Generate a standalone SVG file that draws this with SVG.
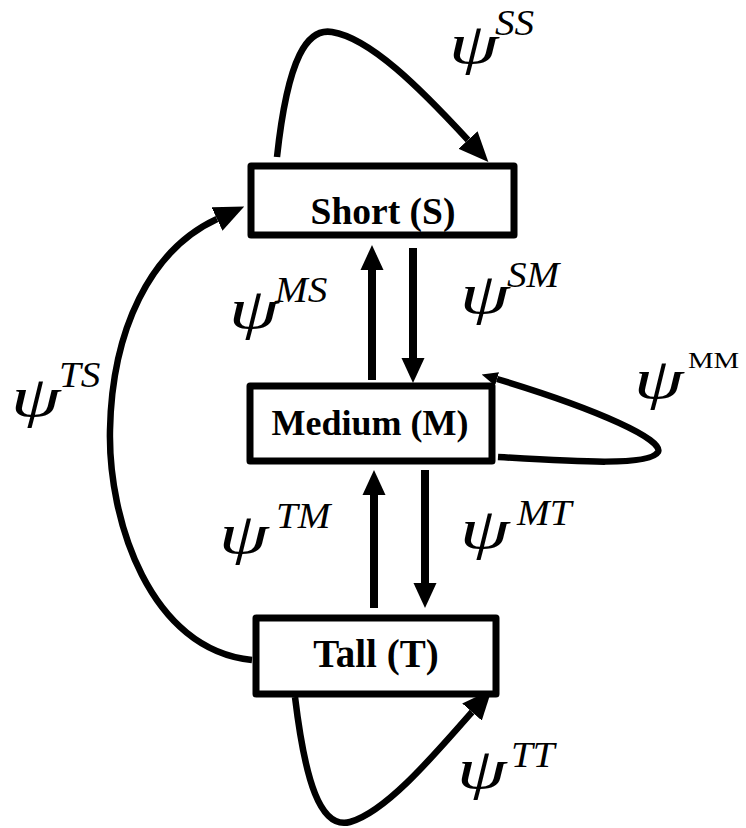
<svg xmlns="http://www.w3.org/2000/svg" width="746" height="828" viewBox="0 0 746 828">
<style>
.box{fill:#fff;stroke:#000;stroke-width:7;stroke-linejoin:round}
.lbl{font-family:"Liberation Serif","Times New Roman",serif;font-weight:bold;font-size:37.5px;text-anchor:middle;fill:#000}
.psi{font-family:"Liberation Serif","Times New Roman",serif;font-style:italic;font-size:57px;fill:#000}
.sup{font-family:"Liberation Serif","Times New Roman",serif;font-style:italic;font-size:35px;fill:#000}
.supr{font-family:"Liberation Serif","Times New Roman",serif;font-size:24px;fill:#000}
.st{fill:none;stroke:#000;stroke-width:8}
.cv{fill:none;stroke:#000;stroke-width:6.5}
</style>
<defs>
<marker id="ah" markerUnits="userSpaceOnUse" markerWidth="26" markerHeight="24" refX="0" refY="11.5" orient="auto" viewBox="0 0 26 23">
<path d="M0,0 L25,11.5 L0,23 z" fill="#000"/>
</marker>
<marker id="ahc" markerUnits="userSpaceOnUse" markerWidth="30" markerHeight="26" refX="0" refY="13" orient="auto" viewBox="0 0 30 26">
<path d="M0,0 L30,13 L0,26 z" fill="#000"/>
</marker>
<marker id="ahs" markerUnits="userSpaceOnUse" markerWidth="16" markerHeight="14" refX="0" refY="7" orient="auto" viewBox="0 0 16 14">
<path d="M0,0 L16,7 L0,14 z" fill="#000"/>
</marker>
</defs>
<g id="connectors">
<path class="cv" d="M277,157 C288,55 308,28 332,32 C370,38 420,88 468,140" marker-end="url(#ahc)"/>
<path class="cv" d="M252,660 C150,650 108,520 110,430 C112,330 150,250 217,219" marker-end="url(#ahc)"/>
<path class="cv" d="M498,457 C580,462 650,466 658,452 C664,440 600,410 497,379" marker-end="url(#ahs)"/>
<path class="cv" d="M295,697 C305,780 320,830 350,822 C385,812 430,760 472,712" marker-end="url(#ahc)"/>
<path class="st" d="M372,380 L372,270" marker-end="url(#ah)"/>
<path class="st" d="M413,248 L413,358" marker-end="url(#ah)"/>
<path class="st" d="M374,608 L374,495" marker-end="url(#ah)"/>
<path class="st" d="M425,470 L425,583" marker-end="url(#ah)"/>
</g>
<g id="short">
<rect class="box" x="251" y="166" width="263" height="69"/>
<text class="lbl" x="383" y="224">Short (S)</text>
</g>
<g id="medium">
<rect class="box" x="250" y="386" width="242" height="75"/>
<text class="lbl" x="370" y="435" style="font-size:36px">Medium (M)</text>
</g>
<g id="tall">
<rect class="box" x="256" y="618" width="240" height="76"/>
<text class="lbl" x="376" y="667" style="font-size:39px">Tall (T)</text>
</g>
<g id="labels">
<text class="psi" transform="translate(449,63) scale(1.4,1)">ψ</text><text class="sup" transform="translate(495,35) scale(1.12,1)">SS</text>
<text class="psi" transform="translate(229,328) scale(1.4,1)">ψ</text><text class="sup" transform="translate(275,302) scale(1.12,1)">MS</text>
<text class="psi" transform="translate(460,313) scale(1.4,1)">ψ</text><text class="sup" transform="translate(507,287) scale(1.12,1)">SM</text>
<text class="psi" transform="translate(634,398) scale(1.4,1)">ψ</text><text class="supr" transform="translate(688,368) scale(1.2,1)">MM</text>
<text class="psi" transform="translate(11,416) scale(1.4,1)">ψ</text><text class="sup" transform="translate(59,387) scale(1.12,1)">TS</text>
<text class="psi" transform="translate(219,553) scale(1.4,1)">ψ</text><text class="sup" transform="translate(276,528) scale(1.12,1)">TM</text>
<text class="psi" transform="translate(460,548) scale(1.4,1)">ψ</text><text class="sup" transform="translate(517,525) scale(1.12,1)">MT</text>
<text class="psi" transform="translate(457,788) scale(1.4,1)">ψ</text><text class="sup" transform="translate(511,767) scale(1.12,1)">TT</text>
</g>
</svg>
